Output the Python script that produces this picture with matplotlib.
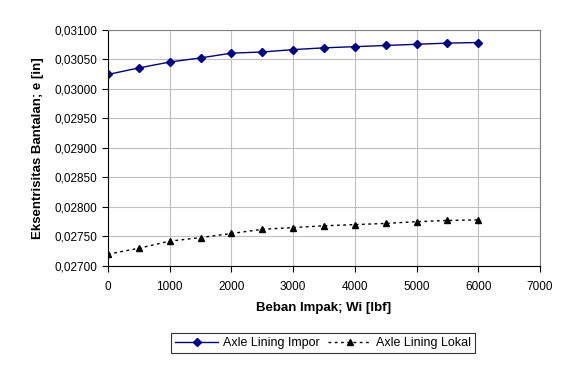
import matplotlib.pyplot as plt
from matplotlib.ticker import FuncFormatter

# data
beban = [0, 500, 1000, 1500, 2000, 2500, 3000, 3500, 4000, 4500, 5000, 5500, 6000]
impor = [0.03024, 0.03035, 0.03045, 0.03052, 0.03060, 0.03062, 0.03066,
         0.03069, 0.03071, 0.03073, 0.03075, 0.03077, 0.03078]
lokal = [0.02720, 0.02730, 0.02742, 0.02748, 0.02755, 0.02762, 0.02765,
         0.02768, 0.02770, 0.02772, 0.02775, 0.02777, 0.02778]

plt.rcParams['font.family'] = ['Liberation Sans', 'DejaVu Sans']

fig = plt.figure(figsize=(5.85, 3.75), dpi=100)
ax = fig.add_axes([0.1846, 0.2907, 0.7385, 0.6306])

ax.plot(beban, impor, color="#000080", marker="D", markersize=4, linewidth=1,
        label="Axle Lining Impor")
ax.plot(beban, lokal, color="black", marker="^", markersize=5, linewidth=1,
        linestyle=(0, (2, 2.5)), label="Axle Lining Lokal")

ax.set_xlim(0, 7000)
ax.set_ylim(0.027, 0.031)
ax.set_xticks(range(0, 7001, 1000))
ax.set_yticks([0.027 + 0.0005 * i for i in range(9)])
ax.yaxis.set_major_formatter(FuncFormatter(lambda v, p: f"{v:.5f}".replace(".", ",")))

ax.grid(True, color="#c0c0c0", linewidth=0.8)
ax.set_axisbelow(True)
for s in ["top", "right"]:
    ax.spines[s].set_color("#808080")
for s in ["left", "bottom"]:
    ax.spines[s].set_color("black")
ax.tick_params(direction="out", length=4, labelsize=8.5, top=False, right=False)
ax.tick_params(axis="x", pad=7)

ax.set_xlabel("Beban Impak; Wi [lbf]", fontsize=9.5, fontweight="bold", labelpad=6)
ax.set_ylabel("Eksentrisitas Bantalan; e [in]", fontsize=9.5, fontweight="bold", labelpad=8)

leg = fig.legend(loc="center", bbox_to_anchor=(323 / 585, 1 - 343 / 375), ncol=2,
                 fontsize=9, frameon=True, fancybox=False, edgecolor="black",
                 handlelength=3.5, handletextpad=0.4, columnspacing=0.6,
                 borderpad=0.3)
leg.get_frame().set_linewidth(0.8)

fig.savefig("out.png", dpi=100)
